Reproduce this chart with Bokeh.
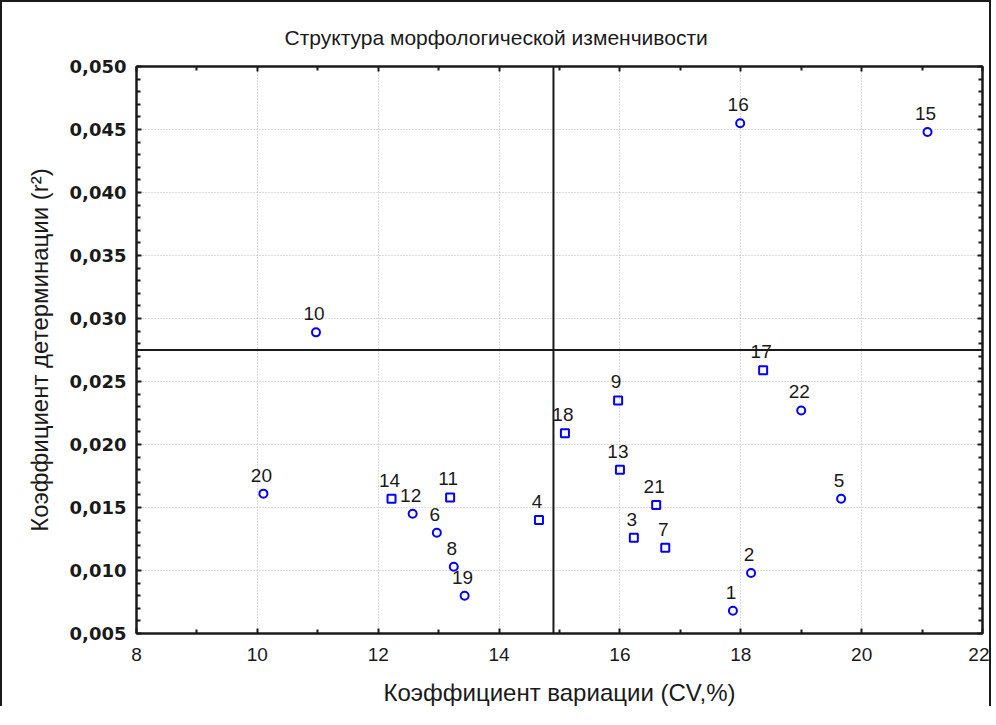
from bokeh.plotting import figure
from bokeh.models import (ColumnDataSource, LabelSet, Span, LinearAxis, FixedTicker,
                          CustomJSTickFormatter)
from bokeh.core.properties import value
from bokeh.embed import file_html
from bokeh.resources import INLINE

# ---- data ----
point_ids = ["1", "2", "3", "4", "5", "6", "7", "8", "9", "10", "11",
             "12", "13", "14", "15", "16", "17", "18", "19", "20", "21", "22"]
cv = [17.87, 18.17, 16.23, 14.66, 19.66, 12.97, 16.75, 13.25, 15.97, 10.97, 13.19,
      12.57, 16.00, 12.22, 21.09, 17.99, 18.37, 15.09, 13.43, 10.10, 16.60, 19.00]
r2 = [0.0068, 0.0098, 0.0126, 0.0140, 0.0157, 0.0130, 0.0118, 0.0103, 0.0235, 0.0289, 0.0158,
      0.0145, 0.0180, 0.0157, 0.0448, 0.0455, 0.0259, 0.0209, 0.0080, 0.0161, 0.0152, 0.0227]
marker_kind = ["circle", "circle", "square", "square", "circle", "circle", "square", "circle",
               "square", "circle", "square", "circle", "square", "square", "circle", "circle",
               "square", "square", "circle", "circle", "square", "circle"]

x_ticks = [8, 10, 12, 14, 16, 18, 20, 22]
x_minor = [9, 11, 13, 15, 17, 19, 21]
y_ticks = [0.005, 0.010, 0.015, 0.020, 0.025, 0.030, 0.035, 0.040, 0.045, 0.050]
y_minor = [0.006, 0.007, 0.008, 0.009, 0.011, 0.012, 0.013, 0.014, 0.016, 0.017, 0.018, 0.019,
           0.021, 0.022, 0.023, 0.024, 0.026, 0.027, 0.028, 0.029, 0.031, 0.032, 0.033, 0.034,
           0.036, 0.037, 0.038, 0.039, 0.041, 0.042, 0.043, 0.044, 0.046, 0.047, 0.048, 0.049]
mean_cv = 14.9
mean_r2 = 0.0275

title_text = "Структура морфологической изменчивости"
x_label = "Коэффициент вариации (CV,%)"
y_label = "Коэффициент детерминации (r²)"

FONT = "Liberation Sans"
INK = "#1a1a1a"

src = ColumnDataSource(dict(x=cv, y=r2, m=marker_kind, lab=point_ids))

p = figure(width=991, height=706, output_backend="svg", toolbar_location=None,
           x_range=(8, 22), y_range=(0.005, 0.050),
           min_border_left=134, min_border_right=11, min_border_top=64, min_border_bottom=75,
           title=title_text,
           styles={"border-top": "2px solid " + INK, "border-left": "2px solid " + INK,
                   "border-right": "2px solid " + INK})
p.background_fill_color = "white"
p.border_fill_color = "white"
p.outline_line_color = INK
p.outline_line_width = 2

p.title.text_font = FONT
p.title.text_font_size = "21px"
p.title.text_font_style = "normal"
p.title.text_color = INK
p.title.align = "left"
p.title.offset = 148
p.title.standoff = 36

xt = FixedTicker(ticks=x_ticks, minor_ticks=x_minor)
yt = FixedTicker(ticks=y_ticks, minor_ticks=y_minor)
xfmt = CustomJSTickFormatter(code="return tick.toFixed(0);")
yfmt = CustomJSTickFormatter(code="return tick.toFixed(3).replace('.', ',');")
blank = CustomJSTickFormatter(code="return '';")

def style_axis(ax):
    ax.axis_line_color = INK
    ax.axis_line_width = 2
    ax.major_tick_in = 5
    ax.major_tick_out = 0
    ax.minor_tick_in = 4
    ax.minor_tick_out = 0
    ax.major_tick_line_color = INK
    ax.minor_tick_line_color = INK
    ax.major_tick_line_width = 2
    ax.minor_tick_line_width = 2
    ax.major_label_text_font = FONT
    ax.major_label_text_font_size = "19px"
    ax.major_label_text_color = INK
    ax.axis_label_text_font = FONT
    ax.axis_label_text_font_size = "24px"
    ax.axis_label_text_font_style = "normal"
    ax.axis_label_text_color = INK

xa = p.xaxis[0]
xa.ticker = xt
xa.formatter = xfmt
xa.axis_label = x_label
style_axis(xa)
xa.major_label_standoff = 14
xa.axis_label_standoff = 15

ya = p.yaxis[0]
ya.ticker = yt
ya.formatter = yfmt
ya.axis_label = y_label
style_axis(ya)
ya.major_label_text_font = "DejaVu Sans"
ya.major_label_text_font_style = "bold"
ya.major_label_text_font_size = "18px"
ya.major_label_standoff = 10
ya.axis_label_standoff = 14

top_ax = LinearAxis(ticker=FixedTicker(ticks=x_ticks, minor_ticks=x_minor), formatter=blank)
style_axis(top_ax)
top_ax.major_label_standoff = 0
p.add_layout(top_ax, "above")
right_ax = LinearAxis(ticker=FixedTicker(ticks=y_ticks, minor_ticks=y_minor), formatter=blank)
style_axis(right_ax)
right_ax.major_label_standoff = 0
p.add_layout(right_ax, "right")

p.xgrid.ticker = xt
p.ygrid.ticker = yt
for g in (p.xgrid, p.ygrid):
    g.grid_line_color = "#b8b8b8"
    g.grid_line_dash = "1 2"
    g.grid_line_width = 1

p.add_layout(Span(location=mean_cv, dimension="height", line_color=INK, line_width=2))
p.add_layout(Span(location=mean_r2, dimension="width", line_color=INK, line_width=2))

p.scatter("x", "y", marker="m", source=src, size=8, fill_alpha=0,
          line_color="#0000ff", line_width=2)

labels = LabelSet(x="x", y="y", text="lab", source=src, x_offset=-2, y_offset=12,
                  text_align="center", text_baseline="bottom",
                  text_font=value(FONT), text_font_size="19px", text_color=INK)
p.add_layout(labels)

open("out.html", "w").write(file_html(p, INLINE))
